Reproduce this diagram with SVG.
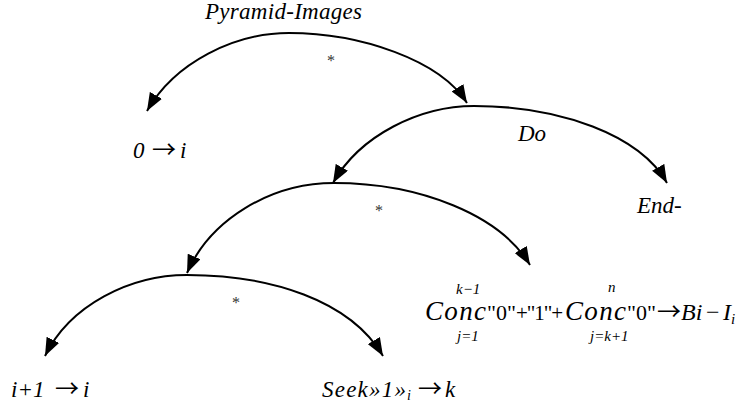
<svg xmlns="http://www.w3.org/2000/svg" width="743" height="410" viewBox="0 0 743 410">
<style>
text{font-family:'Liberation Serif','Times New Roman',Times,serif;fill:#000}
.it{font-style:italic}
.lbl{font-size:23px}
.ast{font-size:16px;fill:#333}
.sm{font-size:15px;font-style:italic}
.ar{font-family:'Noto Sans CJK JP',sans-serif;font-size:24px;font-style:normal}
.arc{fill:none;stroke:#000;stroke-width:2}
</style>
<defs>
<marker id="ah" viewBox="0 0 18 14" refX="18" refY="7" markerWidth="18" markerHeight="14" markerUnits="userSpaceOnUse" orient="auto-start-reverse">
<path d="M0,0 L18,7 L0,14 Z" fill="#000"/>
</marker>
</defs>
<rect width="743" height="410" fill="#fff"/>
<g id="connectors">
<path class="arc" d="M147,111 C175,62 235,33 289,33 C360,33 440,60 467,103" marker-start="url(#ah)" marker-end="url(#ah)"/>
<path class="arc" d="M333,183 C360,135 420,106 474,106 C560,106 640,135 667,183" marker-start="url(#ah)" marker-end="url(#ah)"/>
<path class="arc" d="M187,273 C210,220 270,183 334,183 C420,183 500,215 530,265" marker-start="url(#ah)" marker-end="url(#ah)"/>
<path class="arc" d="M45,356 C70,305 130,275 187,275 C270,275 350,300 383,356" marker-start="url(#ah)" marker-end="url(#ah)"/>
</g>
<g id="pyramid-images"><text class="it lbl" x="205" y="19" textLength="157">Pyramid-Images</text></g>
<g id="star1"><text class="ast" x="327" y="66">*</text></g>
<g id="zero-to-i"><text class="lbl" y="158"><tspan class="it" x="133">0</tspan><tspan class="ar" x="152">→</tspan><tspan class="it" x="180">i</tspan></text></g>
<g id="do"><text class="it lbl" x="518" y="141">Do</text></g>
<g id="end"><text class="it lbl" x="637" y="213">End-</text></g>
<g id="star2"><text class="ast" x="375" y="216">*</text></g>
<g id="formula">
<text class="sm" x="456" y="294">k−1</text>
<text class="it" x="425" y="320" font-size="27" textLength="61">Conc</text>
<text x="487" y="320" font-size="22">"0"</text>
<text x="516" y="320" font-size="21" textLength="47">+"1"+</text>
<text class="sm" x="457" y="341">j=1</text>
<text class="sm" x="608" y="292">n</text>
<text class="it" x="565" y="320" font-size="27" textLength="61">Conc</text>
<text x="627" y="320" font-size="22">"0"</text>
<text class="ar" x="657" y="320" font-size="23">→</text>
<text x="681" y="320" font-size="24"><tspan class="it">Bi</tspan><tspan x="706">−</tspan><tspan class="it" x="723">I</tspan><tspan class="it" font-size="15" dy="4">i</tspan></text>
<text class="sm" x="590" y="341">j=k+1</text>
</g>
<g id="star3"><text class="ast" x="232" y="308">*</text></g>
<g id="i-plus-1"><text class="lbl" y="397"><tspan class="it" x="11">i+1</tspan><tspan class="ar" x="55">→</tspan><tspan class="it" x="83">i</tspan></text></g>
<g id="seek"><text class="lbl" y="397"><tspan class="it" x="322" textLength="84">Seek»1»</tspan><tspan class="it" font-size="14" x="407" dy="3">i</tspan><tspan class="ar" x="418" dy="-3">→</tspan><tspan class="it" x="445">k</tspan></text></g>
</svg>
